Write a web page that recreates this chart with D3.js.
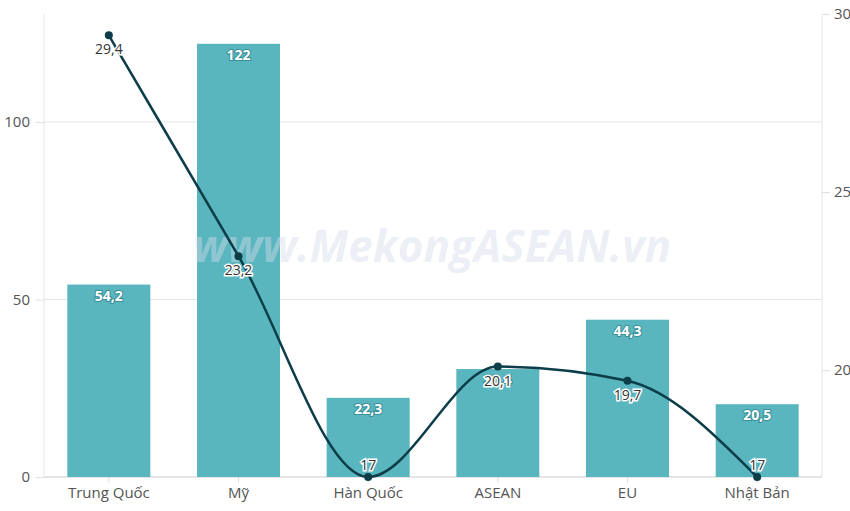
<!DOCTYPE html>
<html><head><meta charset="utf-8">
<script src="https://cdn.jsdelivr.net/npm/d3@7"></script>
<style>body{margin:0;background:#fff;font-family:"Open Sans",sans-serif}</style>
</head><body><div id="chart"></div>
<script>
const categories = ["Trung Quốc", "Mỹ", "Hàn Quốc", "ASEAN", "EU", "Nhật Bản"];
const barValues = [54.2, 122, 22.3, 30.4, 44.3, 20.5];
const lineValues = [29.4, 23.2, 17, 20.1, 19.7, 17];
const leftTicks = [0, 50, 100];
const rightTicks = [20, 25, 30];

const width = 850, height = 511;
const m = {top: 14, right: 28, bottom: 34, left: 44};
const fmt = v => String(v).replace(".", ",");

const svg = d3.select("#chart").append("svg").attr("width", width).attr("height", height);

const x = d3.scaleBand().domain(categories).range([m.left, width - m.right])
  .paddingInner(0.36).paddingOuter(0.18);
const yL = d3.scaleLinear().domain([0, 130.4]).range([height - m.bottom, m.top]);
const yR = d3.scaleLinear().domain([17, 30]).range([height - m.bottom, m.top]);

// grid
svg.append("g").selectAll("line").data(leftTicks.slice(1)).join("line")
  .attr("x1", m.left).attr("x2", width - m.right)
  .attr("y1", d => yL(d)).attr("y2", d => yL(d))
  .attr("stroke", "#e6e6e6");
svg.append("g").selectAll("line").data([m.left, width - m.right]).join("line")
  .attr("x1", d => d).attr("x2", d => d)
  .attr("y1", m.top).attr("y2", height - m.bottom)
  .attr("stroke", "#e6e6e6");

// axes
const axL = svg.append("g").attr("transform", `translate(${m.left},0)`)
  .call(d3.axisLeft(yL).tickValues(leftTicks).tickSize(8).tickPadding(6));
const axR = svg.append("g").attr("transform", `translate(${width - m.right},0)`)
  .call(d3.axisRight(yR).tickValues(rightTicks).tickSize(8).tickPadding(4));
const axB = svg.append("g").attr("transform", `translate(0,${height - m.bottom})`)
  .call(d3.axisBottom(x).tickSize(6).tickPadding(4));
[axL, axR, axB].forEach(a => {
  a.select(".domain").remove();
  a.selectAll("line").attr("stroke", "#e0e0e0");
  a.selectAll("text").attr("fill", "#555").attr("font-size", 15).attr("font-family", "Open Sans");
});
axB.append("line").attr("x1", m.left).attr("x2", width - m.right).attr("stroke", "#ccc");

// bars
svg.append("g").selectAll("rect").data(barValues).join("rect")
  .attr("x", (d, i) => x(categories[i])).attr("width", x.bandwidth())
  .attr("y", d => yL(d)).attr("height", d => yL(0) - yL(d))
  .attr("fill", "#59b5be");

// watermark
svg.append("text").attr("x", 432).attr("y", 262).attr("text-anchor", "middle")
  .attr("font-size", 44).attr("font-weight", "bold").attr("font-style", "italic")
  .attr("fill", "#d8dcec").attr("fill-opacity", 0.45).text("www.MekongASEAN.vn");

svg.append("g").selectAll("text").data(barValues).join("text")
  .attr("x", (d, i) => x(categories[i]) + x.bandwidth() / 2)
  .attr("y", d => yL(d) + 16).attr("text-anchor", "middle")
  .attr("font-size", 14).attr("font-weight", "bold").attr("fill", "#fff")
  .attr("stroke", "#3a8f98").attr("stroke-width", 2).attr("paint-order", "stroke")
  .text(d => fmt(d));

// line
const cx = i => x(categories[i]) + x.bandwidth() / 2;
svg.append("path").datum(lineValues)
  .attr("d", d3.line().x((d, i) => cx(i)).y(d => yR(d)).curve(d3.curveMonotoneX))
  .attr("fill", "none").attr("stroke", "#0c3d48").attr("stroke-width", 2.5);
svg.append("g").selectAll("circle").data(lineValues).join("circle")
  .attr("cx", (d, i) => cx(i)).attr("cy", d => yR(d)).attr("r", 4).attr("fill", "#0c3d48");
svg.append("g").selectAll("text").data(lineValues).join("text")
  .attr("x", (d, i) => cx(i)).attr("y", d => yR(d) + (d <= 17 ? -7 : 19))
  .attr("text-anchor", "middle").attr("font-size", 14).attr("fill", "#333")
  .attr("stroke", "#fff").attr("stroke-width", 3).attr("paint-order", "stroke")
  .text(d => fmt(d));
</script></body></html>
